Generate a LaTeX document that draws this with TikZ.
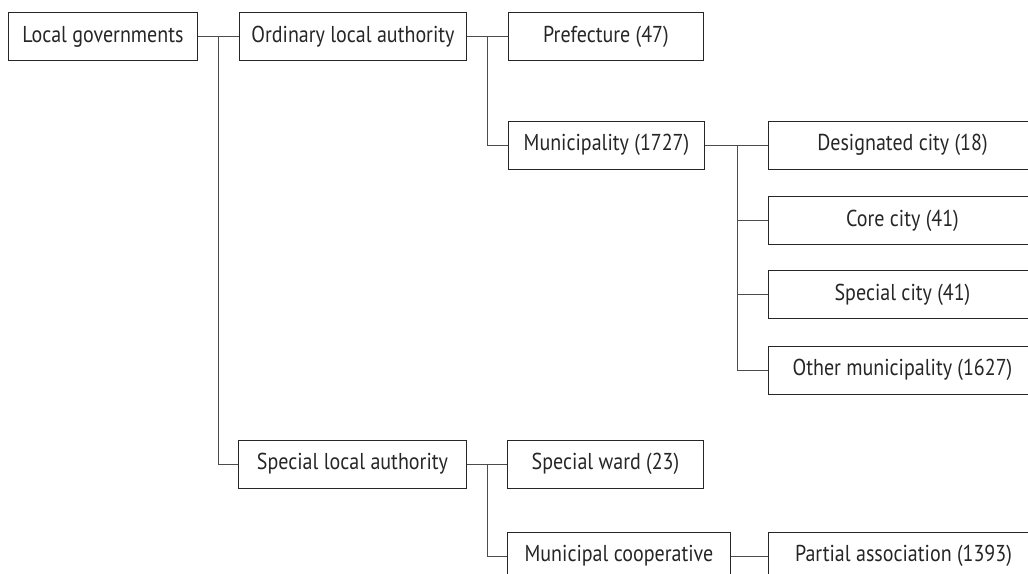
\documentclass[tikz,border=0pt]{standalone}
\usepackage{fontspec}
\setmainfont[FakeStretch=0.87]{PT Sans}
\begin{document}
\begin{tikzpicture}[x=1pt,y=-1pt,
    unit/.style={draw=black!85,line width=0.9pt,text=black!85,anchor=west,
      minimum height=48pt,inner sep=0pt,font=\fontsize{23}{27}\selectfont},
    link/.style={draw=black!70,line width=0.9pt}]
    \useasboundingbox (0,0) rectangle (1028,573);
    \clip (0,0) rectangle (1028,573);
    %first level
    \node [unit,minimum width=189pt] (lg) at (8,36.5) {Local governments};
    \node [unit,minimum width=227pt] (ola) at (239,36.5) {Ordinary local authority};
    \node [unit,minimum width=228pt] (sla) at (238,464) {Special local authority};
    %ordinary
    \node [unit,minimum width=195pt] (pref) at (508,36.5) {Prefecture (47)};
    \node [unit,minimum width=196pt] (muni) at (508,145) {Municipality (1727)};
    \node [unit,minimum width=268pt] (desig) at (768,145) {Designated city (18)};
    \node [unit,minimum width=268pt] (core) at (768,220.5) {Core city (41)};
    \node [unit,minimum width=268pt] (spcity) at (768,294.5) {Special city (41)};
    \node [unit,minimum width=268pt] (other) at (768,370) {Other municipality (1627)};
    %special
    \node [unit,minimum width=196pt] (ward) at (507,464) {Special ward (23)};
    \node [unit,minimum width=223pt] (coop) at (507,556) {Municipal cooperative};
    \node [unit,minimum width=270pt] (part) at (768,556) {Partial association (1393)};
    %spines
    \coordinate (s1) at (218,36.5);
    \coordinate (s2) at (487,36.5);
    \coordinate (s3) at (737,145);
    \coordinate (s4) at (487,464);
    \draw [link] (lg) -- (ola) (s1) |- (sla);
    \draw [link] (ola) -- (pref) (s2) |- (muni);
    \draw [link] (muni) -- (desig) (s3) |- (other);
    \draw [link] (s3 |- core) -- (core) (s3 |- spcity) -- (spcity);
    \draw [link] (sla) -- (ward) (s4) |- (coop);
    \draw [link] (coop) -- (part);
\end{tikzpicture}
\end{document}
